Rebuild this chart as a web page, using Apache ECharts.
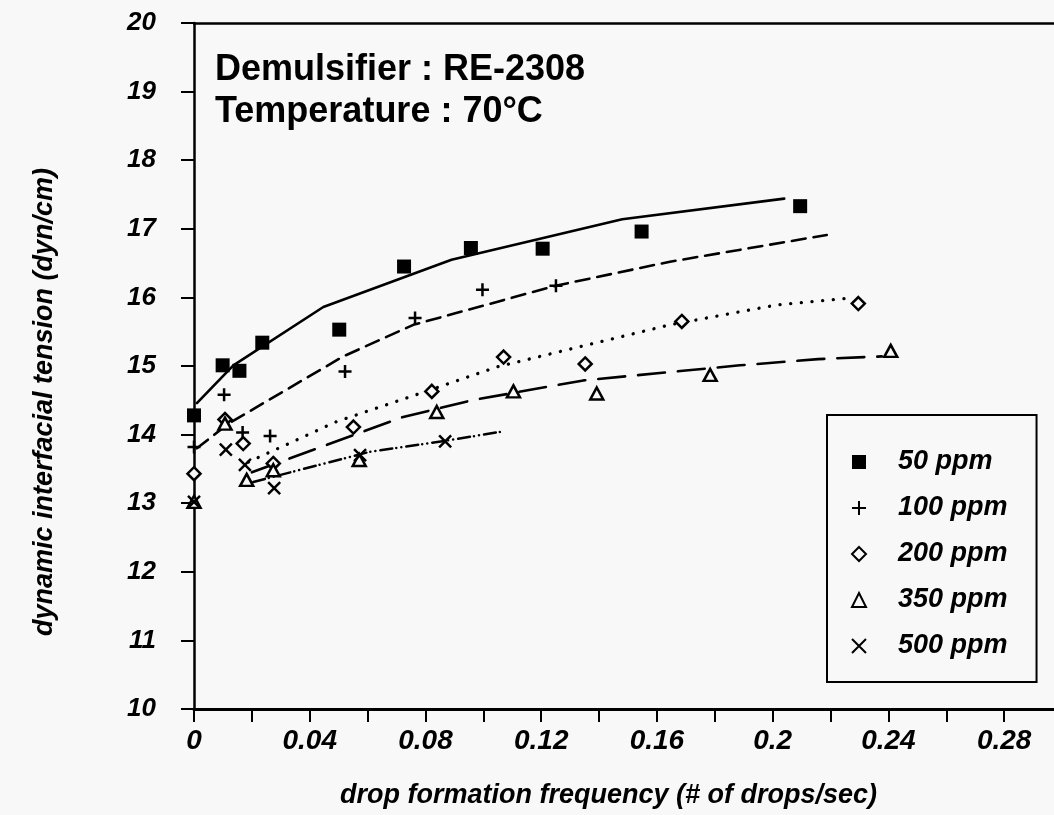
<!DOCTYPE html>
<html><head><meta charset="utf-8">
<script src="https://cdn.jsdelivr.net/npm/echarts@6/dist/echarts.min.js"></script>
<style>html,body{margin:0;padding:0;background:#f8f8f8;overflow:hidden}#c{width:1054px;height:815px}</style>
</head><body><div id="c"></div>
<script>
// ---- data ----
const seriesNames = ['50 ppm', '100 ppm', '200 ppm', '350 ppm', '500 ppm'];

const x50  = [0, 0.0099, 0.0157, 0.0236, 0.0502, 0.0726, 0.0957, 0.1205, 0.1547, 0.2095];
const y50  = [14.28, 15.01, 14.93, 15.34, 15.53, 16.45, 16.72, 16.71, 16.96, 17.33];
const x100 = [0, 0.0104, 0.0168, 0.0263, 0.0522, 0.0764, 0.0997, 0.1251];
const y100 = [13.82, 14.58, 14.03, 13.98, 14.92, 15.70, 16.11, 16.17];
const x200 = [0, 0.0107, 0.017, 0.0274, 0.0551, 0.0822, 0.107, 0.1352, 0.1686, 0.2296];
const y200 = [13.43, 14.22, 13.87, 13.58, 14.11, 14.63, 15.13, 15.03, 15.65, 15.91];
const x350 = [0, 0.0107, 0.0182, 0.0274, 0.0571, 0.0839, 0.1104, 0.1392, 0.1784, 0.2408];
const y350 = [13.02, 14.16, 13.34, 13.48, 13.63, 14.33, 14.63, 14.60, 14.87, 15.22];
const x500 = [0, 0.011, 0.0176, 0.0277, 0.0574, 0.0868];
const y500 = [13.02, 13.78, 13.56, 13.22, 13.70, 13.90];

// fitted curves
const fx50  = [0.001, 0.0136, 0.0447, 0.089, 0.148, 0.204];
const fy50  = [14.46, 15.01, 15.86, 16.55, 17.14, 17.44];
const fx100 = [0.001, 0.0119, 0.0516, 0.0758, 0.125, 0.1645, 0.2187];
const fy100 = [13.80, 14.16, 15.14, 15.60, 16.17, 16.52, 16.91];
const fx200 = [0.0188, 0.0493, 0.0816, 0.105, 0.1645, 0.2014, 0.2268];
const fy200 = [13.60, 14.19, 14.65, 14.99, 15.60, 15.89, 15.99];
const fx350 = [0.02, 0.0718, 0.096, 0.1346, 0.169, 0.1887, 0.2157, 0.2377];
const fy350 = [13.45, 14.25, 14.50, 14.79, 14.93, 15.01, 15.10, 15.14];
const fx500 = [0.0205, 0.0608, 0.0885, 0.1058];
const fy500 = [13.31, 13.75, 13.92, 14.04];

const xTickLabels = ['0', '0.04', '0.08', '0.12', '0.16', '0.2', '0.24', '0.28'];

// ---- chart ----
const zip = (a, b) => a.map((v, i) => [v, b[i]]);
const FONT = 'Liberation Sans';
const BG = '#f8f8f8';
const PLUS = 'path://M0,5L10,5M5,0L5,10';
const CROSS = 'path://M0,0L10,10M10,0L0,10';

const pts = [[x50, y50], [x100, y100], [x200, y200], [x350, y350], [x500, y500]];
const fits = [[fx50, fy50], [fx100, fy100], [fx200, fy200], [fx350, fy350], [fx500, fy500]];
const symbols = ['rect', PLUS, 'diamond', 'triangle', CROSS];
const symSizes = [14, 13, 13, [13, 12], 12];
const fills = ['#000', 'transparent', BG, BG, 'transparent'];
const strokeW = [0, 2.5, 2.5, 2.5, 2.5];
const lineTypes = ['solid', [14, 8], [0.1, 10.6], [27, 13], [12, 4, 0.1, 5, 0.1, 5]];
const lineWidths = [2.6, 2.6, 3.3, 2.6, 2.5];

const series = [];
seriesNames.forEach((n, i) => {
  series.push({
    type: 'line', name: n + ' fit', data: zip(fits[i][0], fits[i][1]),
    symbol: 'none', silent: true, z: 2,
    lineStyle: { color: '#000', width: lineWidths[i], type: lineTypes[i], cap: 'round' }
  });
});
seriesNames.forEach((n, i) => {
  series.push({
    type: 'scatter', name: n, data: zip(pts[i][0], pts[i][1]),
    symbol: symbols[i], symbolSize: symSizes[i], z: 3,
    itemStyle: { color: fills[i], borderColor: '#000', borderWidth: strokeW[i], opacity: 1 }
  });
});

const chart = echarts.init(document.getElementById('c'), null, { renderer: 'canvas' });
chart.setOption({
  backgroundColor: BG,
  animation: false,
  title: {
    text: 'Demulsifier : RE-2308\nTemperature : 70°C',
    left: 215, top: 49, padding: 0,
    textStyle: { fontFamily: FONT, fontSize: 36, fontWeight: 'bold', color: '#000', lineHeight: 42 }
  },
  legend: {
    orient: 'vertical', left: 827, top: 415,
    padding: [32, 29, 21, 24], itemGap: 16, itemWidth: 14, itemHeight: 14,
    borderColor: '#000', borderWidth: 2, selectedMode: false,
    textStyle: { fontFamily: FONT, fontSize: 27, fontStyle: 'italic', fontWeight: 'bold', color: '#000',
                 padding: [0, 0, 0, 27], lineHeight: 30 },
    data: seriesNames.map((n, i) => ({ name: n, icon: symbols[i] }))
  },
  grid: { left: 194, width: 868, top: 23, height: 686, show: false, containLabel: false,
          outerBoundsMode: 'none' },
  xAxis: [{
    type: 'value', min: 0, max: 0.3, interval: 0.02,
    axisLine: { onZero: false, lineStyle: { color: '#000', width: 3 } },
    axisTick: { length: 13, lineStyle: { color: '#000', width: 2 } },
    splitLine: { show: false },
    axisLabel: {
      margin: 18, color: '#000', fontFamily: FONT, fontSize: 28, fontStyle: 'italic', fontWeight: 'bold',
      formatter: v => { const k = Math.round(v * 100); return k % 4 === 0 ? (xTickLabels[k / 4] || '') : ''; }
    },
    name: 'drop formation frequency (# of drops/sec)', nameLocation: 'middle', nameGap: 73,
    nameTextStyle: { color: '#000', fontFamily: FONT, fontSize: 27, fontStyle: 'italic', fontWeight: 'bold',
                     padding: [0, 39, 0, 0] }
  }, {
    type: 'value', position: 'top', min: 0, max: 0.3,
    axisLine: { onZero: false, lineStyle: { color: '#000', width: 2.5 } },
    axisTick: { show: false }, axisLabel: { show: false }, splitLine: { show: false }
  }],
  yAxis: {
    type: 'value', min: 10, max: 20, interval: 1,
    axisLine: { onZero: false, lineStyle: { color: '#000', width: 2.5 } },
    axisTick: { length: 13, lineStyle: { color: '#000', width: 2 } },
    splitLine: { show: false },
    axisLabel: { margin: 38, color: '#000', fontFamily: FONT, fontSize: 26, fontStyle: 'italic', fontWeight: 'bold' },
    name: 'dynamic interfacial tension (dyn/cm)', nameLocation: 'middle', nameGap: 136,
    nameTextStyle: { color: '#000', fontFamily: FONT, fontSize: 27, fontStyle: 'italic', fontWeight: 'bold',
                     padding: [0, 72, 0, 0] }
  },
  series: series
});
</script>
</body></html>
